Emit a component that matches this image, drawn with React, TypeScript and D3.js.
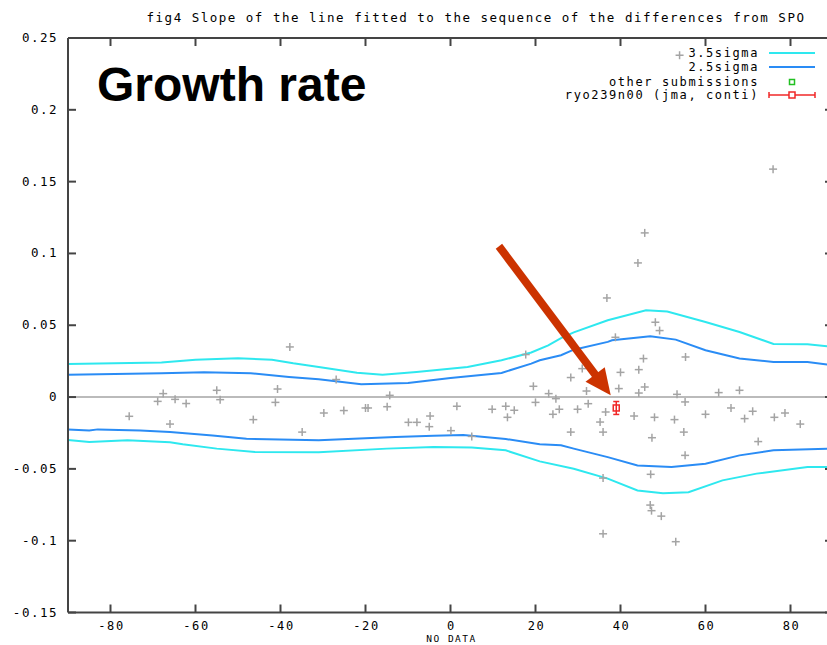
import * as d3 from 'd3';

const W = 827;
const H = 645;
const PLOT = { left: 68, right: 833, top: 38, bottom: 612.5 };
const MONO = '"DejaVu Sans Mono", "Liberation Mono", monospace';

const TITLE = 'fig4 Slope of the line fitted to the sequence of the differences from SPO';
const X_LABEL = 'NO DATA';
const X_TICKS = [-80, -60, -40, -20, 0, 20, 40, 60, 80];
const Y_TICKS = [0.25, 0.2, 0.15, 0.1, 0.05, 0, -0.05, -0.1, -0.15];
const Y_TICK_LABELS = ['0.25', '0.2', '0.15', '0.1', '0.05', '0', '-0.05', '-0.1', '-0.15'];

// envelopes: [x, y]
const upper35: [number, number][] = [
  [-90, 0.023], [-68, 0.024], [-60, 0.026], [-50, 0.027], [-42, 0.026], [-37, 0.0235],
  [-31, 0.021], [-22, 0.017], [-16, 0.0156], [-8, 0.0175], [4, 0.021], [12, 0.0256],
  [19, 0.031], [23, 0.036], [26, 0.041], [29, 0.045], [37, 0.0535], [46, 0.0605],
  [51, 0.0595], [60, 0.0523], [68, 0.0453], [76, 0.037], [84, 0.0368], [90, 0.035],
];
const upper25: [number, number][] = [
  [-90, 0.0155], [-68, 0.0166], [-58, 0.0172], [-47, 0.0166], [-38, 0.014], [-31, 0.0124],
  [-21, 0.0089], [-10, 0.0098], [0, 0.0133], [12, 0.0168], [19, 0.0233], [21, 0.0256],
  [26, 0.0291], [29, 0.033], [37, 0.0384], [38, 0.0395], [47, 0.0423], [53, 0.04],
  [60, 0.0326], [68, 0.0268], [76, 0.0244], [84, 0.0244], [90, 0.0221],
];
const lower25: [number, number][] = [
  [-90, -0.0225], [-85, -0.0232], [-83, -0.0225], [-73, -0.0232], [-66, -0.0244],
  [-56, -0.0267], [-48, -0.029], [-31, -0.0301], [-20, -0.0287], [-13, -0.0278],
  [-4, -0.0269], [3, -0.0264], [13, -0.0292], [21, -0.0329], [26, -0.0336], [29, -0.0359],
  [37, -0.0418], [44, -0.0476], [52, -0.0487], [60, -0.0464], [68, -0.0406], [76, -0.0371],
  [90, -0.0359],
];
const lower35: [number, number][] = [
  [-90, -0.0299], [-85, -0.0313], [-76, -0.0301], [-66, -0.0315], [-63, -0.0329],
  [-55, -0.0359], [-46, -0.0383], [-31, -0.0385], [-15, -0.0359], [-4, -0.0348],
  [5, -0.0352], [13, -0.0371], [21, -0.0448], [29, -0.0499], [37, -0.0568], [44, -0.065],
  [50, -0.0669], [56, -0.0662], [64, -0.058], [72, -0.0533], [84, -0.0487], [90, -0.0487],
];

// other submissions
const otherX = [
  -37.8, -67.6, -68.9, -64.8, -62.2, -75.6, -66.0, -55.0, -54.2, -40.7, -41.2, -46.4, -34.9,
  -26.9, -14.3, -29.8, -25.1, -20.0, -19.4, -14.9, -9.9, -7.9, -4.8, -5.0, 0.1, 5.0, 1.5,
  9.8, 13.0, 15.0, 13.4, 17.7, 19.5, 20.0, 23.1, 24.8, 24.1, 25.6,
  75.9, 45.7, 44.1, 36.8, 48.2, 49.2, 38.8,
  45.4, 55.3, 31.0, 44.3, 40.0, 28.3, 32.0, 39.6, 45.7, 44.3, 53.3, 63.1, 68.0, 32.4, 55.2,
  29.9, 36.5, 43.2, 48.0, 52.7, 60.0, 66.0, 71.1, 69.2, 76.2, 78.7, 82.3, 35.2, 28.3, 35.9,
  54.9, 47.4, 72.4, 55.2, 47.1, 35.9, 47.0, 47.3, 49.6, 35.9, 53.0, 53.9,
];
const otherY = [
  0.0349, 0.0024, -0.003, -0.0016, -0.0045, -0.0134, -0.0188, 0.0047, -0.0018, 0.0056, -0.0037, -0.0157, -0.0244,
  0.0122, 0.0012, -0.0111, -0.0094, -0.0076, -0.0076, -0.0067, -0.0176, -0.0176, -0.0132, -0.0206, -0.0234, -0.0274, -0.0064,
  -0.0085, -0.0064, -0.0092, -0.0141, 0.0296, 0.0075, -0.0037, 0.0024, -0.0011, -0.012, -0.0085,
  0.1587, 0.1143, 0.0934, 0.069, 0.0521, 0.0463, 0.0416,
  0.0268, 0.0279, 0.0198, 0.0191, 0.0172, 0.0136, 0.0042, 0.0059, 0.007, 0.0028, 0.0019, 0.0031, 0.0047, -0.0046, -0.0034,
  -0.0085, -0.0104, -0.0132, -0.0141, -0.0157, -0.012, -0.0076, -0.0099, -0.015, -0.0141, -0.0111, -0.0188, -0.0174, -0.0244, -0.0244,
  -0.0244, -0.0283, -0.031, -0.0406, -0.0538, -0.0564, -0.0752, -0.0791, -0.0829, -0.0952, -0.1007, 0.238,
];

// ryo239n00 (jma, conti)
const ryoX = 39.0;
const ryoY = -0.0076;
const ryoErr = 0.0045;

// annotation arrow
const arrowFrom: [number, number] = [11.4, 0.105];
const arrowTo: [number, number] = [37.7, 0.0012];

const CYAN = '#2ee8ef';
const BLUE = '#2a8cf5';
const GRAY = '#a4a4a4';
const RED = '#f02828';
const AXIS = '#444444';
const INK = '#000';

export default function App() {
  const x = d3.scaleLinear().domain([-90, 90]).range([PLOT.left, PLOT.right]);
  const y = d3.scaleLinear().domain([-0.15, 0.25]).range([PLOT.bottom, PLOT.top]);
  const line = d3.line<[number, number]>().x((d) => x(d[0])).y((d) => y(d[1]));

  const bands = [
    { data: upper35, color: CYAN },
    { data: lower35, color: CYAN },
    { data: upper25, color: BLUE },
    { data: lower25, color: BLUE },
  ];

  // arrow geometry in pixels
  const ax0 = x(arrowFrom[0]);
  const ay0 = y(arrowFrom[1]);
  const ax1 = x(arrowTo[0]);
  const ay1 = y(arrowTo[1]);
  const len = Math.hypot(ax1 - ax0, ay1 - ay0);
  const ux = (ax1 - ax0) / len;
  const uy = (ay1 - ay0) / len;
  const headL = 26;
  const headW = 12;
  const bx = ax1 - ux * headL;
  const by = ay1 - uy * headL;
  const head = `${ax1},${ay1} ${bx - uy * headW},${by + ux * headW} ${bx + uy * headW},${by - ux * headW}`;

  const tick = 8;
  const legendRows = [53, 67, 82, 95];
  const legendTextX = 759;
  const lx0 = 769;
  const lx1 = 815;
  const lmid = 792;

  return (
    <svg
      width={W}
      height={H}
      style={{ position: 'absolute', left: 0, top: 0, background: '#fff' }}
    >
      <rect width={W} height={H} fill="#fff" />

      <text
        x={476}
        y={22}
        textAnchor="middle"
        fontFamily={MONO}
        fontSize={12.5}
        letterSpacing={1.5}
        fill={INK}
      >
        {TITLE}
      </text>

      {/* zero line */}
      <line x1={PLOT.left} x2={PLOT.right} y1={y(0)} y2={y(0)} stroke={GRAY} strokeWidth={1.5} />

      {/* sigma envelopes */}
      {bands.map((b, i) => (
        <path key={i} d={line(b.data) ?? ''} fill="none" stroke={b.color} strokeWidth={2} />
      ))}

      {/* other submissions */}
      {otherX.map((v, i) => {
        const px = x(v);
        const py = y(otherY[i]);
        return (
          <g key={i} stroke={GRAY} strokeWidth={1.5}>
            <line x1={px - 4} x2={px + 4} y1={py} y2={py} />
            <line x1={px} x2={px} y1={py - 4} y2={py + 4} />
          </g>
        );
      })}

      {/* ryo point with error bar */}
      <g stroke={RED} strokeWidth={1.5} fill="none">
        <line x1={x(ryoX)} x2={x(ryoX)} y1={y(ryoY + ryoErr)} y2={y(ryoY - ryoErr)} />
        <line x1={x(ryoX) - 3} x2={x(ryoX) + 3} y1={y(ryoY + ryoErr)} y2={y(ryoY + ryoErr)} />
        <line x1={x(ryoX) - 3} x2={x(ryoX) + 3} y1={y(ryoY - ryoErr)} y2={y(ryoY - ryoErr)} />
        <rect x={x(ryoX) - 3} y={y(ryoY) - 3} width={6} height={6} />
      </g>

      {/* arrow */}
      <line x1={ax0} y1={ay0} x2={bx + ux * 2} y2={by + uy * 2} stroke="#cc3300" strokeWidth={8} />
      <polygon points={head} fill="#cc3300" />

      {/* frame */}
      <g stroke={AXIS} strokeWidth={2} fill="none">
        <line x1={PLOT.left} x2={PLOT.right} y1={PLOT.top} y2={PLOT.top} />
        <line x1={PLOT.left} x2={PLOT.right} y1={PLOT.bottom} y2={PLOT.bottom} />
        <line x1={PLOT.left} x2={PLOT.left} y1={PLOT.top} y2={PLOT.bottom} />
        <line x1={PLOT.right} x2={PLOT.right} y1={PLOT.top} y2={PLOT.bottom} />
        {X_TICKS.map((t) => (
          <g key={`xt${t}`}>
            <line x1={x(t)} x2={x(t)} y1={PLOT.bottom} y2={PLOT.bottom - tick} />
            <line x1={x(t)} x2={x(t)} y1={PLOT.top} y2={PLOT.top + tick} />
          </g>
        ))}
        {Y_TICKS.map((t) => (
          <g key={`yt${t}`}>
            <line x1={PLOT.left} x2={PLOT.left + tick} y1={y(t)} y2={y(t)} />
            <line x1={PLOT.right} x2={PLOT.right - tick} y1={y(t)} y2={y(t)} />
          </g>
        ))}
      </g>

      {X_TICKS.map((t) => (
        <text
          key={`xl${t}`}
          x={x(t) + 1}
          y={630}
          textAnchor="middle"
          fontFamily={MONO}
          fontSize={12}
          letterSpacing={1.6}
          fill={INK}
        >
          {String(t)}
        </text>
      ))}
      {Y_TICKS.map((t, i) => (
        <text
          key={`yl${t}`}
          x={58}
          y={y(t) + 4}
          textAnchor="end"
          fontFamily={MONO}
          fontSize={12.5}
          letterSpacing={1.5}
          fill={INK}
        >
          {Y_TICK_LABELS[i]}
        </text>
      ))}
      <text
        x={x(0) + 1}
        y={642}
        textAnchor="middle"
        fontFamily={MONO}
        fontSize={9.5}
        letterSpacing={1.5}
        fill={INK}
      >
        {X_LABEL}
      </text>

      {/* legend */}
      <g fontFamily={MONO} fontSize={12} letterSpacing={1.6} fill={INK} textAnchor="end">
        <text x={legendTextX} y={legendRows[0] + 4}>3.5sigma</text>
        <text x={legendTextX} y={legendRows[1] + 4}>2.5sigma</text>
        <text x={legendTextX} y={legendRows[2] + 4}>other submissions</text>
        <text x={legendTextX} y={legendRows[3] + 4}>ryo239n00 (jma, conti)</text>
      </g>
      <line x1={lx0} x2={lx1} y1={legendRows[0]} y2={legendRows[0]} stroke={CYAN} strokeWidth={2} />
      <line x1={lx0} x2={lx1} y1={legendRows[1]} y2={legendRows[1]} stroke={BLUE} strokeWidth={2} />
      <rect x={lmid - 2.5} y={legendRows[2] - 2.5} width={5} height={5} fill="none" stroke="#22c022" strokeWidth={1.5} />
      <g stroke={RED} strokeWidth={1.5} fill="none">
        <line x1={lx0} x2={lx1} y1={legendRows[3]} y2={legendRows[3]} />
        <line x1={lx0} x2={lx0} y1={legendRows[3] - 3} y2={legendRows[3] + 3} />
        <line x1={lx1} x2={lx1} y1={legendRows[3] - 3} y2={legendRows[3] + 3} />
        <rect x={lmid - 3} y={legendRows[3] - 3} width={6} height={6} fill="#fff" />
      </g>

      <text
        x={97}
        y={101}
        fontFamily='"Liberation Sans", Arial, sans-serif'
        fontWeight="bold"
        fontSize={48}
        fill="#000"
      >
        Growth rate
      </text>
    </svg>
  );
}
